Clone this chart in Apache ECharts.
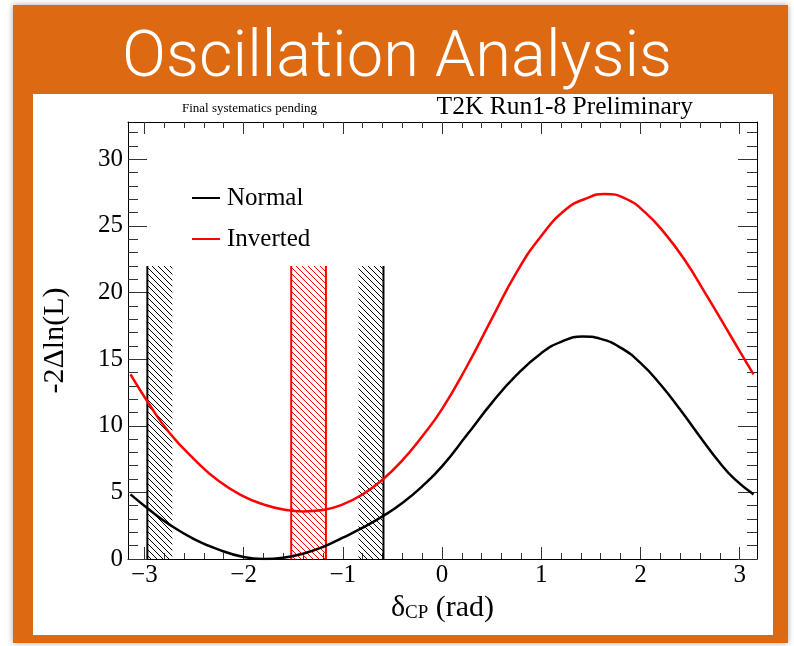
<!DOCTYPE html>
<html>
<head>
<meta charset="utf-8">
<script src="https://cdn.jsdelivr.net/npm/echarts@6/dist/echarts.min.js"></script>
<style>
  html, body { margin: 0; padding: 0; width: 794px; height: 646px; background: #ffffff; overflow: hidden; }
  #frame { position: absolute; left: 13px; top: 5px; width: 775px; height: 638px; background: #dd6a12; box-shadow: 0 0 6px rgba(0,0,0,0.35); }
  #panel { position: absolute; left: 33px; top: 94px; width: 740px; height: 541px; background: #ffffff; }
  #chart { position: absolute; left: 0; top: 0; width: 794px; height: 646px; }
</style>
</head>
<body>
<div id="frame"></div>
<div id="panel"></div>
<div id="chart"></div>
<script>
// ---------------- data ----------------
const normalX = [-3.14, -2.95, -2.75, -2.5, -2.25, -2.0, -1.8, -1.6, -1.4, -1.2, -1.0, -0.8, -0.6, -0.4, -0.2, 0.0, 0.25, 0.5, 0.75, 1.0, 1.2, 1.42, 1.6, 1.8, 2.0, 2.2, 2.4, 2.6, 2.8, 2.95, 3.14];
const normalY = [4.85, 3.7, 2.6, 1.5, 0.7, 0.15, 0.0, 0.1, 0.4, 0.9, 1.6, 2.35, 3.2, 4.2, 5.45, 6.95, 9.3, 11.7, 13.8, 15.45, 16.3, 16.7, 16.52, 15.86, 14.72, 13.12, 11.22, 9.18, 7.22, 5.99, 4.85];

const invertedX = [-3.14, -2.95, -2.75, -2.5, -2.25, -2.0, -1.8, -1.6, -1.4, -1.2, -1.0, -0.8, -0.6, -0.4, -0.2, 0.0, 0.25, 0.5, 0.75, 1.0, 1.25, 1.45, 1.64, 1.85, 2.05, 2.25, 2.45, 2.65, 2.85, 3.0, 3.14];
const invertedY = [13.85, 11.6, 9.5, 7.5, 5.85, 4.7, 4.1, 3.72, 3.57, 3.68, 4.1, 4.85, 5.95, 7.4, 9.2, 11.25, 14.45, 18.0, 21.5, 24.25, 26.25, 27.05, 27.4, 27.05, 26.0, 24.4, 22.4, 20.0, 17.5, 15.6, 13.85];

// 2-sigma interval limits (lower, upper) and drawn height of the limit markers
const normalInterval = [-2.97, -0.59];
const invertedInterval = [-1.52, -1.17];
const intervalHeight = 22;

const seriesNames = ['Normal', 'Inverted'];

// axis ticks / labels
const xMajor = [-3, -2, -1, 0, 1, 2, 3];
const xMinor = [-2.8, -2.6, -2.4, -2.2, -1.8, -1.6, -1.4, -1.2, -0.8, -0.6, -0.4, -0.2, 0.2, 0.4, 0.6, 0.8, 1.2, 1.4, 1.6, 1.8, 2.2, 2.4, 2.6, 2.8, 3.0];
const yMajor = [0, 5, 10, 15, 20, 25, 30];
const yMinor = [1, 2, 3, 4, 6, 7, 8, 9, 11, 12, 13, 14, 16, 17, 18, 19, 21, 22, 23, 24, 26, 27, 28, 29, 31, 32];

// ---------------- styles ----------------
const X_MIN = -3.165, X_MAX = 3.175, Y_MIN = 0, Y_MAX = 32.8;
const SERIF = '"Liberation Serif", "Times New Roman", serif';
const TICK = '#333';
const ORANGE = '#dd6a12';

function hatch(color) {
  const c = document.createElement('canvas');
  const s = 6;
  c.width = s; c.height = s;
  const g = c.getContext('2d');
  g.strokeStyle = color;
  g.lineWidth = 1;
  g.beginPath();
  g.moveTo(-1, -1); g.lineTo(s + 1, s + 1);
  g.moveTo(-1, s - 1); g.lineTo(1, s + 1);
  g.moveTo(s - 1, -1); g.lineTo(s + 1, 1);
  g.stroke();
  return { image: c, repeat: 'repeat' };
}

function limitRenderer(color) {
  const pat = hatch(color);
  const W = 25;
  return function (params, api) {
    const x = api.value(0), top = api.value(1);
    const p0 = api.coord([x, 0]);
    const p1 = api.coord([x, top]);
    const left = params.dataIndex === 0 ? p0[0] : p0[0] - W;
    return {
      type: 'group',
      children: [
        { type: 'rect', shape: { x: left, y: p1[1], width: W, height: p0[1] - p1[1] }, style: { fill: pat } },
        { type: 'line', shape: { x1: p0[0], y1: p0[1], x2: p1[0], y2: p1[1] }, style: { stroke: color, lineWidth: 2 } }
      ]
    };
  };
}

function xAxisDef(pos, ticks, len, labels, showLine) {
  return {
    type: 'value', position: pos, min: X_MIN, max: X_MAX,
    axisLine: { show: showLine, onZero: false, lineStyle: { color: '#000', width: 1 } },
    axisTick: { show: true, inside: true, length: len, customValues: ticks, lineStyle: { color: TICK, width: 1 } },
    axisLabel: labels ? {
      show: true, customValues: xMajor, margin: 4, fontSize: 25, fontFamily: SERIF, color: '#000',
      formatter: v => String(v).replace('-', '\u2212')
    } : { show: false },
    splitLine: { show: false }
  };
}
function yAxisDef(pos, ticks, len, labels, showLine) {
  return {
    type: 'value', position: pos, min: Y_MIN, max: Y_MAX,
    axisLine: { show: showLine, onZero: false, lineStyle: { color: '#000', width: 1 } },
    axisTick: { show: true, inside: true, length: len, customValues: ticks, lineStyle: { color: TICK, width: 1 } },
    axisLabel: labels ? { show: true, customValues: yMajor, margin: 5, fontSize: 25, fontFamily: SERIF, color: '#000' } : { show: false },
    splitLine: { show: false }
  };
}

const xAxes = [
  xAxisDef('bottom', xMajor, 12, true, true),
  xAxisDef('bottom', xMinor, 6, false, false),
  xAxisDef('top', xMajor, 12, false, true),
  xAxisDef('top', xMinor, 6, false, false)
];
Object.assign(xAxes[0], {
  name: '{a|\u03b4}{b|CP}{a| (rad)}',
  nameLocation: 'middle',
  nameGap: 28,
  nameTextStyle: {
    rich: {
      a: { fontSize: 30, fontFamily: SERIF, color: '#000', lineHeight: 30 },
      b: { fontSize: 19, fontFamily: SERIF, color: '#000', lineHeight: 8, verticalAlign: 'bottom' }
    }
  }
});
const yAxes = [
  yAxisDef('left', yMajor, 19, true, true),
  yAxisDef('left', yMinor, 10, false, false),
  yAxisDef('right', yMajor, 19, false, true),
  yAxisDef('right', yMinor, 10, false, false)
];
Object.assign(yAxes[0], {
  name: '-2\u0394ln(L)',
  nameLocation: 'middle',
  nameRotate: 90,
  nameGap: 58,
  nameTextStyle: { fontSize: 30, fontFamily: SERIF, color: '#000' }
});

const chart = echarts.init(document.getElementById('chart'), null, { renderer: 'canvas' });
chart.setOption({
  animation: false,
  backgroundColor: 'transparent',
  title: [
    {
      text: 'Oscillation Analysis', left: 'center', top: 22,
      textStyle: {
        color: '#ffffff', fontSize: 65, fontWeight: 300, fontFamily: 'Roboto, "Liberation Sans", sans-serif',
        textBorderColor: ORANGE, textBorderWidth: 2
      }
    },
    {
      text: 'Final systematics pending', left: 182, top: 102, padding: 0,
      textStyle: { color: '#000', fontSize: 13, fontWeight: 'normal', fontFamily: SERIF }
    },
    {
      text: 'T2K Run1-8 Preliminary', right: 101, top: 94, padding: 0,
      textStyle: { color: '#000', fontSize: 25.5, fontWeight: 'normal', fontFamily: SERIF }
    }
  ],
  legend: {
    orient: 'vertical', left: 192, top: 183, itemGap: 11, padding: 0,
    itemWidth: 28, itemHeight: 2, icon: 'rect',
    data: seriesNames,
    textStyle: { fontSize: 25, fontFamily: SERIF, color: '#000', lineHeight: 30, padding: [0, 0, 0, 2] }
  },
  grid: { left: 128, top: 122, width: 629, height: 437, containLabel: false },
  xAxis: xAxes,
  yAxis: yAxes,
  series: [
    {
      type: 'custom', name: 'Normal interval', renderItem: limitRenderer('#000000'),
      data: normalInterval.map(v => [v, intervalHeight]), z: 1, silent: true, clip: true
    },
    {
      type: 'custom', name: 'Inverted interval', renderItem: limitRenderer('#ff0000'),
      data: invertedInterval.map(v => [v, intervalHeight]), z: 1, silent: true, clip: true
    },
    {
      type: 'line', name: seriesNames[0], data: normalX.map((x, i) => [x, normalY[i]]),
      smooth: 0.5, showSymbol: false, symbol: 'none', z: 3,
      lineStyle: { color: '#000000', width: 2.5 }, itemStyle: { color: '#000000' }
    },
    {
      type: 'line', name: seriesNames[1], data: invertedX.map((x, i) => [x, invertedY[i]]),
      smooth: 0.5, showSymbol: false, symbol: 'none', z: 3,
      lineStyle: { color: '#ff0000', width: 2.5 }, itemStyle: { color: '#ff0000' }
    }
  ]
});
</script>
</body>
</html>
